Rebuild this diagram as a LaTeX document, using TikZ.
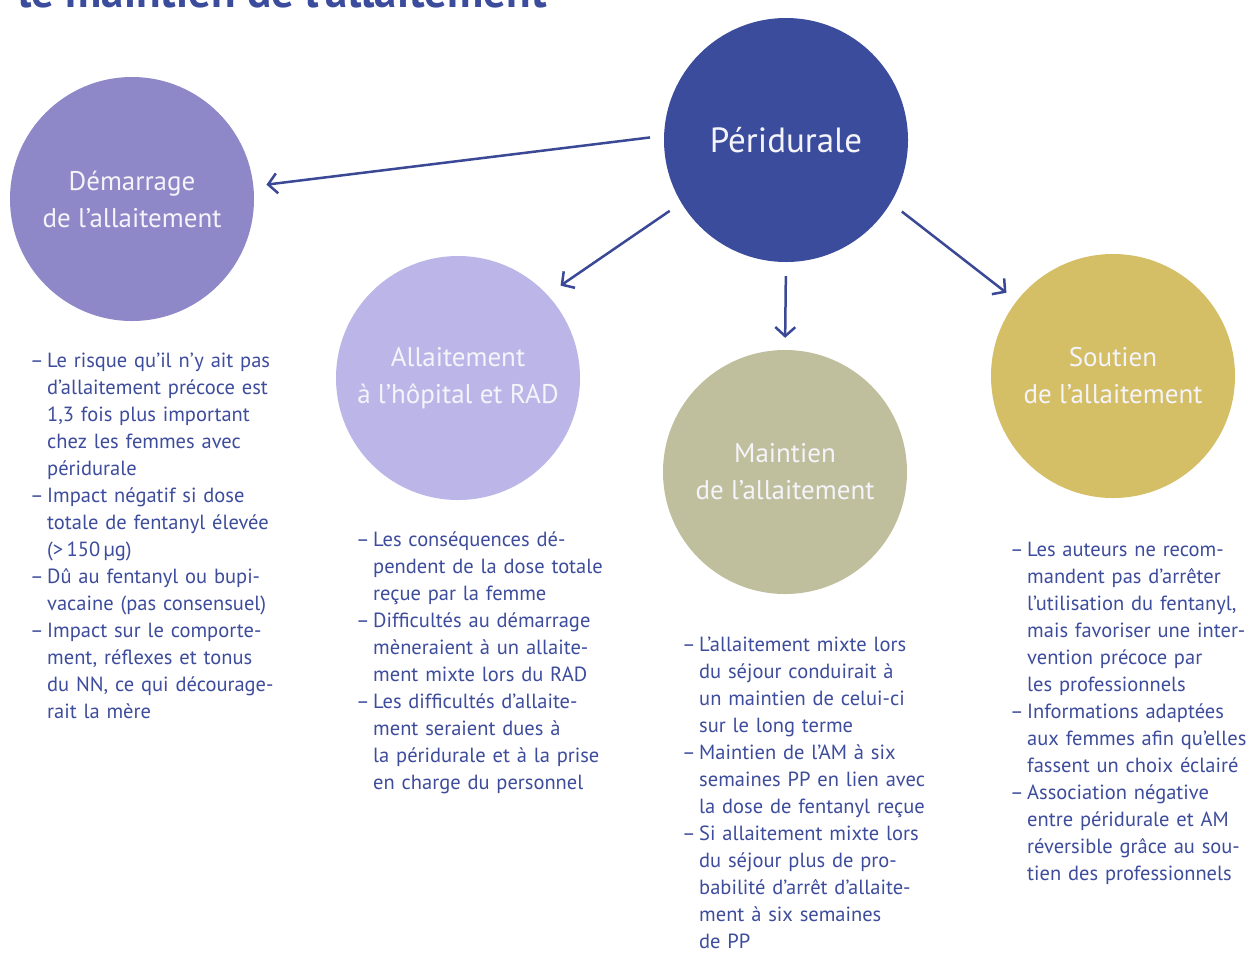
\documentclass[tikz,border=0pt]{standalone}
\usepackage{fontspec}
\setmainfont{PT Sans}
\usetikzlibrary{arrows.meta}
\definecolor{cPer}{RGB}{60,76,156}
\definecolor{cDem}{RGB}{142,136,200}
\definecolor{cAll}{RGB}{188,182,232}
\definecolor{cMai}{RGB}{192,191,157}
\definecolor{cSou}{RGB}{212,190,102}
\definecolor{cline}{RGB}{58,72,150}
\definecolor{cbody}{RGB}{62,76,156}
\definecolor{ctext}{RGB}{244,244,250}
\newcommand{\bdash}{\makebox[15pt][l]{\hspace*{-2pt}–}}
\newcommand{\bind}{\hspace*{15pt}}
\begin{document}
\begin{tikzpicture}[x=1pt,y=-1pt,
  bubble/.style={circle, minimum size=244pt, inner sep=0pt, align=center, text=ctext, font=\fontsize{27}{37}\selectfont},
  conn/.style={draw=cline, line width=2.5pt, -{Straight Barb[length=9pt,width=20pt]}},
  textblock/.style={anchor=base west, inner sep=0pt, text width=330pt, align=left, text=cbody, font=\fontsize{20.5}{27}\selectfont},
  titletext/.style={anchor=base west, inner sep=0pt, text=cPer, font=\fontsize{45}{48}\selectfont\bfseries}]
\useasboundingbox (0,0) rectangle (1249,954);
\fill[white] (0,0) rectangle (1249,954);
\begin{scope}
\clip (0,0) rectangle (1249,954);
\node[titletext] (title) at (18,7) {le maintien de l’allaitement};
\end{scope}

\node[bubble, fill=cPer, font=\fontsize{35}{40}\selectfont] (P) at (786,140) {Péridurale};
\node[bubble, fill=cDem] (D) at (132,199) {Démarrage\\de l’allaitement};
\node[bubble, fill=cAll] (A) at (458,378) {Allaitement\\à l’hôpital et RAD};
\node[bubble, fill=cMai] (M) at (785,472) {Maintien\\de l’allaitement};
\node[bubble, fill=cSou] (S) at (1113,376) {Soutien\\de l’allaitement};

\draw[conn, shorten <=14pt, shorten >=13pt] (P.178) -- (D.6);
\draw[conn, shorten <=14pt, shorten >=16pt] (P.211) -- (A.43);
\draw[conn, shorten <=14pt, shorten >=12pt] (P.south) -- (M.north);
\draw[conn, shorten <=14pt, shorten >=13pt] (P.329) -- (S.142);

\node[textblock] (tD) at (32,367) {\bdash Le risque qu’il n’y ait pas\\
\bind d’allaitement précoce est\\
\bind 1,3 fois plus important\\
\bind chez les femmes avec\\
\bind péridurale\\
\bdash Impact négatif si dose\\
\bind totale de fentanyl élevée\\
\bind (>\thinspace150\thinspace µg)\\
\bdash Dû au fentanyl ou bupi-\\
\bind vacaine (pas consensuel)\\
\bdash Impact sur le comporte-\\
\bind ment, réflexes et tonus\\
\bind du NN, ce qui décourage-\\
\bind rait la mère};

\node[textblock] (tA) at (358,546) {\bdash Les conséquences dé-\\
\bind pendent de la dose totale\\
\bind reçue par la femme\\
\bdash Difficultés au démarrage\\
\bind mèneraient à un allaite-\\
\bind ment mixte lors du RAD\\
\bdash Les difficultés d’allaite-\\
\bind ment seraient dues à\\
\bind la péridurale et à la prise\\
\bind en charge du personnel};

\node[textblock] (tM) at (684,651) {\bdash L’allaitement mixte lors\\
\bind du séjour conduirait à\\
\bind un maintien de celui-ci\\
\bind sur le long terme\\
\bdash Maintien de l’AM à six\\
\bind semaines PP en lien avec\\
\bind la dose de fentanyl reçue\\
\bdash Si allaitement mixte lors\\
\bind du séjour plus de pro-\\
\bind babilité d’arrêt d’allaite-\\
\bind ment à six semaines\\
\bind de PP};

\node[textblock] (tS) at (1012,556) {\bdash Les auteurs ne recom-\\
\bind mandent pas d’arrêter\\
\bind l’utilisation du fentanyl,\\
\bind mais favoriser une inter-\\
\bind vention précoce par\\
\bind les professionnels\\
\bdash Informations adaptées\\
\bind aux femmes afin qu’elles\\
\bind fassent un choix éclairé\\
\bdash Association négative\\
\bind entre péridurale et AM\\
\bind réversible grâce au sou-\\
\bind tien des professionnels};
\end{tikzpicture}
\end{document}
